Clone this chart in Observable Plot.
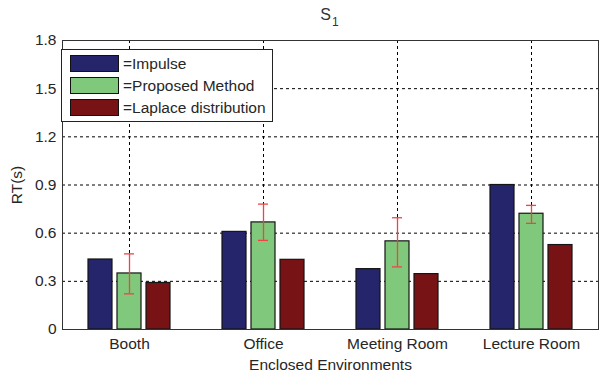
<!DOCTYPE html>
<html><head><meta charset="utf-8">
<script src="https://cdn.jsdelivr.net/npm/d3@7"></script>
<script src="https://cdn.jsdelivr.net/npm/@observablehq/plot@0.6"></script>
<style>
body{margin:0;background:#fff;font-family:"Liberation Sans",Arial,sans-serif;}
#wrap{position:relative;width:599px;height:376px;}
#title{position:absolute;left:61px;width:537px;top:7px;text-align:center;font-size:16px;line-height:16px;color:#333;}
#title span{font-size:12px;position:relative;top:6px;margin-left:1px;}
#legend{position:absolute;left:61px;top:49px;width:212px;height:73px;border:1px solid #222;background:#fff;box-sizing:border-box;}
.row{position:absolute;left:8px;height:17px;display:flex;align-items:center;font-size:15.5px;color:#262626;}
.sw{width:47px;height:15px;border:1px solid #111;margin-right:4px;}
</style></head><body><div id="wrap"></div>
<script>
const environments = ["Booth", "Office", "Meeting Room", "Lecture Room"];
const methods = ["Impulse", "Proposed Method", "Laplace distribution"];
const impulse = [0.436, 0.608, 0.376, 0.90];
const proposed = [0.349, 0.667, 0.549, 0.721];
const laplace = [0.29, 0.434, 0.345, 0.526];
const proposedLow = [0.222, 0.555, 0.39, 0.661];
const proposedHigh = [0.471, 0.781, 0.696, 0.773];
const yTicks = [0, 0.3, 0.6, 0.9, 1.2, 1.5, 1.8];
const colors = ["#25256b", "#80c87b", "#771314"];

const series = [impulse, proposed, laplace];
const bars = [];
environments.forEach((env, i) => methods.forEach((m, j) => bars.push({env, method: m, value: series[j][i]})));
const errs = environments.map((env, i) => ({env, method: "Proposed Method", lo: proposedLow[i], hi: proposedHigh[i]}));

const chart = Plot.plot({
  width: 599, height: 376,
  marginTop: 40, marginBottom: 47, marginLeft: 61, marginRight: 1,
  style: {fontFamily: "'Liberation Sans', Arial, sans-serif", fontSize: "15.5px", color: "#262626", background: "white"},
  fx: {domain: environments, padding: 0, axis: "bottom", label: "Enclosed Environments", tickSize: 0, tickPadding: 8, labelAnchor: "center", labelOffset: 40},
  x: {domain: methods, axis: null, paddingInner: 0.18, paddingOuter: 0.83},
  y: {domain: [0, 1.8], ticks: yTicks, tickFormat: d => String(d), tickSize: 0, tickPadding: 6, label: "RT(s)", labelAnchor: "center", labelOffset: 52, labelArrow: "none"},
  color: {domain: methods, range: colors},
  marks: [
    Plot.ruleY(yTicks.slice(1, -1), {stroke: "#000", strokeDasharray: "3,3", strokeWidth: 1}),
    Plot.gridFx({stroke: "#000", strokeOpacity: 1, strokeDasharray: "3,3"}),
    Plot.barY(bars, {fx: "env", x: "method", y: "value", fill: "method", stroke: "#151515", strokeWidth: 1.2}),
    Plot.ruleX(errs, {fx: "env", x: "method", y1: "lo", y2: "hi", stroke: "#ee4444", strokeWidth: 1.3}),
    Plot.tickY(errs, {fx: "env", x: "method", y: "lo", stroke: "#ee4444", strokeWidth: 1.3, insetLeft: 7, insetRight: 7}),
    Plot.tickY(errs, {fx: "env", x: "method", y: "hi", stroke: "#ee4444", strokeWidth: 1.3, insetLeft: 7, insetRight: 7}),
    Plot.frame({facet: "super", stroke: "#333"})
  ]
});
const wrap = document.getElementById("wrap");
wrap.appendChild(chart);

const title = document.createElement("div");
title.id = "title";
title.innerHTML = "S<span>1</span>";
wrap.appendChild(title);

const legend = document.createElement("div");
legend.id = "legend";
methods.forEach((m, j) => {
  const row = document.createElement("div");
  row.className = "row";
  row.style.top = (5 + j * 22) + "px";
  const sw = document.createElement("div");
  sw.className = "sw";
  sw.style.background = colors[j];
  row.appendChild(sw);
  row.appendChild(document.createTextNode("=" + m));
  legend.appendChild(row);
});
wrap.appendChild(legend);
</script></body></html>
